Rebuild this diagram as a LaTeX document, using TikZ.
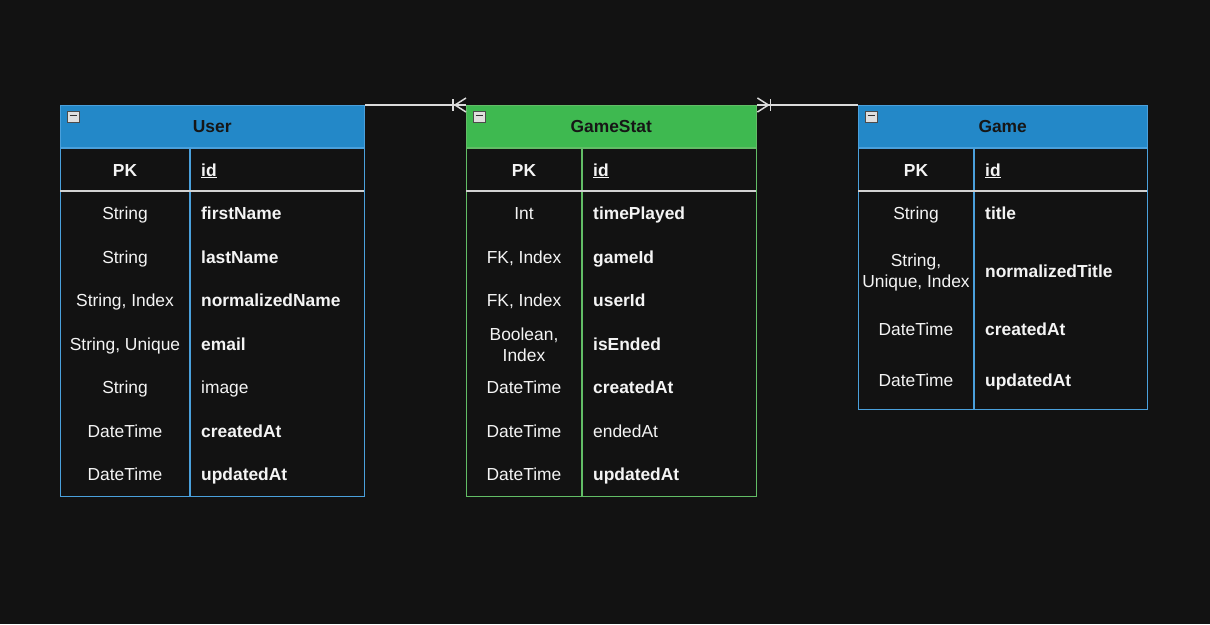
\documentclass[tikz,border=0pt]{standalone}
\usepackage{fontspec}
\setmainfont{Liberation Sans}
\usetikzlibrary{calc}
\definecolor{bgc}{HTML}{121212}
\definecolor{bluehdr}{HTML}{2388C8}
\definecolor{greenhdr}{HTML}{3EB950}
\definecolor{blueline}{HTML}{4AA0DC}
\definecolor{greenline}{HTML}{62BD66}
\definecolor{sepgray}{HTML}{D2D2D2}
\definecolor{conngray}{HTML}{DADADA}
\definecolor{txt}{HTML}{F4F4F4}
\definecolor{hdrtxt}{HTML}{161616}
\begin{document}
\begin{tikzpicture}[x=1pt,y=-1pt,
  frame/.style={draw=#1, line width=1.4pt, anchor=north west, inner sep=0pt},
  hdrbox/.style={fill=#1, draw=none, anchor=north west, inner sep=0pt, minimum height=43pt,
    text=hdrtxt, font=\fontsize{17.4}{21}\selectfont\bfseries},
  coldiv/.style={draw=#1, line width=1.4pt},
  sepline/.style={draw=sepgray, line width=2pt},
  typ/.style={anchor=base, text=txt, inner sep=0pt, font=\fontsize{17.4}{21}\selectfont},
  typtwo/.style={anchor=center, align=center, text=txt, inner sep=0pt, font=\fontsize{17.4}{21}\selectfont},
  typb/.style={anchor=base, text=txt, inner sep=0pt, font=\fontsize{17.4}{21}\selectfont\bfseries},
  fld/.style={anchor=base west, text=txt, inner sep=0pt, font=\fontsize{17.4}{21}\selectfont},
  fldb/.style={anchor=base west, text=txt, inner sep=0pt, font=\fontsize{17.4}{21}\selectfont\bfseries},
  minusbox/.style={draw=gray!60!black, fill=gray!25, line width=0.6pt, minimum width=12pt, minimum height=11pt, inner sep=0pt},
  conn/.style={draw=conngray, line width=1.5pt}
]
\fill[bgc] (0,0) rectangle (1210,624);
\useasboundingbox (0,0) rectangle (1210,624);

% ---------------- User ----------------
\node[hdrbox=bluehdr, minimum width=304pt] (userhdr) at (60,105) {User};
\node[frame=blueline, minimum width=304pt, minimum height=391pt] (user) at (60,105) {};
\draw[coldiv=blueline] (60,148) -- (364,148);
\draw[coldiv=blueline] (190,148) -- (190,496);
\draw[sepline] (60,191) -- (364,191);
\node[minusbox] (userminus) at (73,117) {};
\draw[black!80, line width=1.8pt] ($(userminus.center)+(-3.5,-1.5)$) -- ($(userminus.center)+(3.5,-1.5)$);
\node[typb] (u0t) at (125,176) {PK};
\node[fldb] (u0f) at (201,176) {\underline{id}};
\node[typ] (u1t) at (125,219) {String};
\node[fldb] (u1f) at (201,219) {firstName};
\node[typ] (u2t) at (125,263) {String};
\node[fldb] (u2f) at (201,263) {lastName};
\node[typ] (u3t) at (125,306) {String, Index};
\node[fldb] (u3f) at (201,306) {normalizedName};
\node[typ] (u4t) at (125,350) {String, Unique};
\node[fldb] (u4f) at (201,350) {email};
\node[typ] (u5t) at (125,393) {String};
\node[fld] (u5f) at (201,393) {image};
\node[typ] (u6t) at (125,437) {DateTime};
\node[fldb] (u6f) at (201,437) {createdAt};
\node[typ] (u7t) at (125,480) {DateTime};
\node[fldb] (u7f) at (201,480) {updatedAt};

% ---------------- GameStat ----------------
\node[hdrbox=greenhdr, minimum width=290pt] (gshdr) at (466,105) {GameStat};
\node[frame=greenline, minimum width=290pt, minimum height=391pt] (gamestat) at (466,105) {};
\draw[coldiv=greenline] (466,148) -- (756,148);
\draw[coldiv=greenline] (582,148) -- (582,496);
\draw[sepline] (466,191) -- (756,191);
\node[minusbox] (gsminus) at (479,117) {};
\draw[black!80, line width=1.8pt] ($(gsminus.center)+(-3.5,-1.5)$) -- ($(gsminus.center)+(3.5,-1.5)$);
\node[typb] (g0t) at (524,176) {PK};
\node[fldb] (g0f) at (593,176) {\underline{id}};
\node[typ] (g1t) at (524,219) {Int};
\node[fldb] (g1f) at (593,219) {timePlayed};
\node[typ] (g2t) at (524,263) {FK, Index};
\node[fldb] (g2f) at (593,263) {gameId};
\node[typ] (g3t) at (524,306) {FK, Index};
\node[fldb] (g3f) at (593,306) {userId};
\node[typtwo] (g4t) at (524,345) {Boolean,\\Index};
\node[fldb] (g4f) at (593,350) {isEnded};
\node[typ] (g5t) at (524,393) {DateTime};
\node[fldb] (g5f) at (593,393) {createdAt};
\node[typ] (g6t) at (524,437) {DateTime};
\node[fld] (g6f) at (593,437) {endedAt};
\node[typ] (g7t) at (524,480) {DateTime};
\node[fldb] (g7f) at (593,480) {updatedAt};

% ---------------- Game ----------------
\node[hdrbox=bluehdr, minimum width=289pt] (gamehdr) at (858,105) {Game};
\node[frame=blueline, minimum width=289pt, minimum height=304pt] (game) at (858,105) {};
\draw[coldiv=blueline] (858,148) -- (1147,148);
\draw[coldiv=blueline] (974,148) -- (974,409);
\draw[sepline] (858,191) -- (1147,191);
\node[minusbox] (gameminus) at (871,117) {};
\draw[black!80, line width=1.8pt] ($(gameminus.center)+(-3.5,-1.5)$) -- ($(gameminus.center)+(3.5,-1.5)$);
\node[typb] (m0t) at (916,176) {PK};
\node[fldb] (m0f) at (985,176) {\underline{id}};
\node[typ] (m1t) at (916,219) {String};
\node[fldb] (m1f) at (985,219) {title};
\node[typtwo] (m2t) at (916,272) {String,\\Unique, Index};
\node[fldb] (m2f) at (985,277) {normalizedTitle};
\node[typ] (m3t) at (916,335) {DateTime};
\node[fldb] (m3f) at (985,335) {createdAt};
\node[typ] (m4t) at (916,386) {DateTime};
\node[fldb] (m4f) at (985,386) {updatedAt};

% ---------------- Connectors ----------------
\draw[conn] (user.north east) -- (gamestat.north west);
\draw[conn] ($(gamestat.north west)+(-11,0)$) -- ($(gamestat.north west)+(0,-7)$);
\draw[conn] ($(gamestat.north west)+(-11,0)$) -- ($(gamestat.north west)+(0,7)$);
\draw[conn] ($(gamestat.north west)+(-13,-6)$) -- ($(gamestat.north west)+(-13,6)$);

\draw[conn] (gamestat.north east) -- (game.north west);
\draw[conn] ($(gamestat.north east)+(11,0)$) -- ($(gamestat.north east)+(0,-7)$);
\draw[conn] ($(gamestat.north east)+(11,0)$) -- ($(gamestat.north east)+(0,7)$);
\draw[conn] ($(gamestat.north east)+(13,-6)$) -- ($(gamestat.north east)+(13,6)$);
\end{tikzpicture}
\end{document}
